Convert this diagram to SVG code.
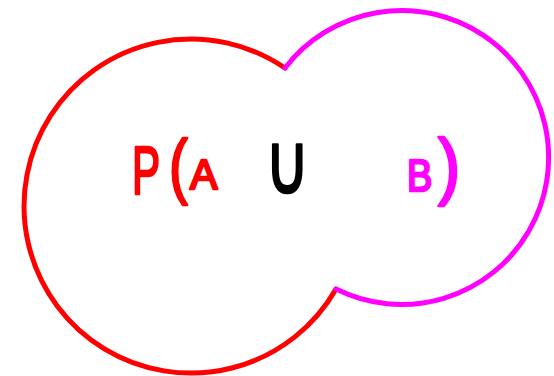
<svg xmlns="http://www.w3.org/2000/svg" width="554" height="376" viewBox="0 0 554 376">
<style>
.c{fill:none;stroke-width:5;stroke-linecap:round}
.t{font-family:"Liberation Sans","DejaVu Sans",sans-serif;font-weight:normal;stroke-width:2.5;stroke-linejoin:round}
.r{fill:#ff0000;stroke:#ff0000}
.m{fill:#ff00ff;stroke:#ff00ff}
</style>
<rect width="554" height="376" fill="#fff"/>
<g id="connectors">
<path id="circleA" class="c" stroke="#ff0000" d="M285,68 A167,167 0 1 0 336,289"/>
<path id="circleB" class="c" stroke="#ff00ff" d="M285,68 A147,147 0 1 1 336,289"/>
</g>
<g id="label">
<text class="t r" transform="translate(132,194) scale(0.62,1)" font-size="68">P</text>
<text class="t r" transform="translate(169,190) scale(0.78,1)" font-size="72">(</text>
<text class="t r" transform="translate(190,189) scale(0.98,1)" font-size="42">A</text>
<text class="t" fill="#000" stroke="#000" transform="translate(265,193) scale(0.72,1)" font-size="84" style="font-family:'DejaVu Sans',sans-serif">∪</text>
<text class="t m" transform="translate(407,191) scale(0.86,1)" font-size="44">B</text>
<text class="t m" transform="translate(438,191) scale(0.9,1)" font-size="74">)</text>
</g>
</svg>
